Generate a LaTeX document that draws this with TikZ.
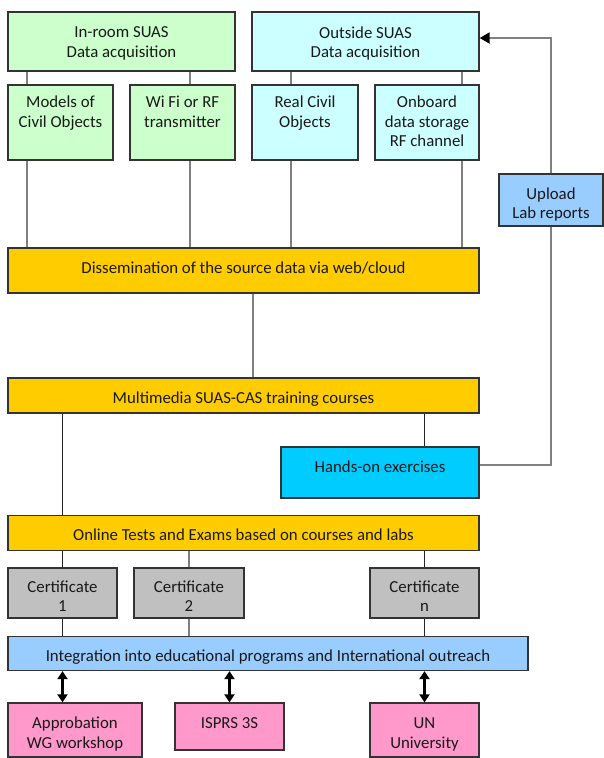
\documentclass[tikz,border=0pt]{standalone}
\usepackage{fontspec}
\setmainfont{Carlito}
\usetikzlibrary{arrows.meta}

\definecolor{inroomgreen}{HTML}{CCFFCC}
\definecolor{outcyan}{HTML}{CCFFFF}
\definecolor{uploadblue}{HTML}{99CCFF}
\definecolor{coursegold}{HTML}{FFCC00}
\definecolor{handscyan}{HTML}{00CCFF}
\definecolor{certgrey}{HTML}{C0C0C0}
\definecolor{outpink}{HTML}{FF99CC}

\tikzset{
  blk/.style={draw=black!80, line width=1.3pt, text=black!90, align=center, inner sep=2pt,
              font=\fontsize{16.8}{19}\selectfont},
  lbltxt/.style={align=center, inner sep=0pt, text=black!90,
              font=\fontsize{16.8}{19.5}\selectfont},
  toplbl/.style={lbltxt, anchor=north, yshift=-11.5pt},
  midlbl/.style={lbltxt, anchor=center, yshift=-#1},
  gline/.style={draw=black!50, line width=1.8pt},
  bline/.style={draw=black!85, line width=1.3pt},
  dblarrow/.style={black, line width=2.4pt, {Triangle[length=8pt,width=10pt]}-{Triangle[length=8pt,width=10pt]}},
}

\begin{document}
\begin{tikzpicture}[x=1pt, y=-1pt]
  \useasboundingbox (0,0) rectangle (603,758);

  % data acquisition
  \node[blk, fill=inroomgreen, minimum width=227pt, minimum height=59pt, label={[midlbl=2pt]center:In-room SUAS\\Data acquisition}] (inroom) at (121.5,41.5) {};
  \node[blk, fill=outcyan, minimum width=227pt, minimum height=59pt, label={[midlbl=2pt]center:Outside SUAS\\Data acquisition}] (outside) at (365.5,41.5) {};

  \node[blk, fill=inroomgreen, minimum width=105pt, minimum height=75pt, label={[toplbl]north:Models of\\Civil Objects}] (models) at (60.5,122.5) {};
  \node[blk, fill=inroomgreen, minimum width=105pt, minimum height=75pt, label={[toplbl]north:Wi Fi or RF\\transmitter}] (wifi) at (182.5,122.5) {};
  \node[blk, fill=outcyan, minimum width=106pt, minimum height=75pt, label={[toplbl]north:Real Civil\\Objects}] (real) at (305,122.5) {};
  \node[blk, fill=outcyan, minimum width=104pt, minimum height=75pt, label={[toplbl]north:Onboard\\data storage\\RF channel}] (onboard) at (427,122.5) {};

  \node[blk, fill=uploadblue, minimum width=104pt, minimum height=52pt, label={[midlbl=4.5pt]center:Upload\\Lab reports}] (upload) at (551,200) {};

  % courses
  \node[blk, fill=coursegold, minimum width=471pt, minimum height=45pt, text height=12pt, text depth=7pt] (dissem) at (243.5,270.5) {Dissemination of the source data via web/cloud};
  \node[blk, fill=coursegold, minimum width=471pt, minimum height=35pt, text height=15pt, text depth=0pt] (multi) at (243.5,395.5) {Multimedia SUAS-CAS training courses};
  \node[blk, fill=handscyan, minimum width=198pt, minimum height=51pt, text height=12pt, text depth=13pt] (handson) at (380,472.5) {Hands-on exercises};
  \node[blk, fill=coursegold, minimum width=471pt, minimum height=35pt, text height=14pt, text depth=0pt] (online) at (243.5,533) {Online Tests and Exams based on courses and labs};

  % certificates
  \node[blk, fill=certgrey, minimum width=109pt, minimum height=50pt, label={[midlbl=3pt]center:Certificate\\1}] (cert1) at (62.5,593) {};
  \node[blk, fill=certgrey, minimum width=110pt, minimum height=50pt, label={[midlbl=3pt]center:Certificate\\2}] (cert2) at (189,593) {};
  \node[blk, fill=certgrey, minimum width=109pt, minimum height=50pt, label={[midlbl=3pt]center:Certificate\\n}] (certn) at (424.5,593) {};

  \node[blk, fill=uploadblue, minimum width=520pt, minimum height=34pt, text height=15pt, text depth=0pt] (integ) at (268,653.5) {Integration into educational programs and International outreach};

  % outreach
  \node[blk, fill=outpink, minimum width=134pt, minimum height=54pt, label={[midlbl=4pt]center:Approbation\\WG workshop}] (approb) at (75,730) {};
  \node[blk, fill=outpink, minimum width=109pt, minimum height=47pt, text height=12pt, text depth=8pt] (isprs) at (229.5,726.5) {ISPRS 3S};
  \node[blk, fill=outpink, minimum width=109pt, minimum height=54pt, label={[midlbl=4.5pt]center:UN\\University}] (un) at (424.5,730) {};

  % connectors
  \foreach \kid/\hub/\dx in {models/inroom/-33.5, wifi/inroom/7.5, real/outside/-14, onboard/outside/35} {
    \draw[gline] ([xshift=\dx pt]\kid.north) -- ([xshift=\dx pt]\kid.north |- \hub.south);
    \draw[gline] ([xshift=\dx pt]\kid.south) -- ([xshift=\dx pt]\kid.south |- dissem.north);
  }
  \draw[gline] ([xshift=9.5pt]dissem.south) -- ([xshift=9.5pt]dissem.south |- multi.north);
  \draw[bline] (multi.south -| cert1) -- (online.north -| cert1);
  \draw[bline] (multi.south -| certn) -- (handson.north -| certn);

  \foreach \c/\ln in {cert1/bline, cert2/gline, certn/bline} {
    \draw[\ln] (online.south -| \c.north) -- (\c.north);
    \draw[\ln] (\c.south) -- (integ.north -| \c.south);
  }

  \draw[dblarrow] (integ.south -| cert1) -- (approb.north -| cert1);
  \draw[dblarrow] (integ.south -| isprs) -- (isprs.north);
  \draw[dblarrow] (integ.south -| un) -- (un.north);

  % feedback loop
  \draw[gline] ([yshift=7.5pt]handson.east) -| (upload.south);
  \draw[gline, -{Triangle[length=10pt,width=11pt,color=black]}] (upload.north) |- ([yshift=3.5pt]outside.east);
\end{tikzpicture}
\end{document}
